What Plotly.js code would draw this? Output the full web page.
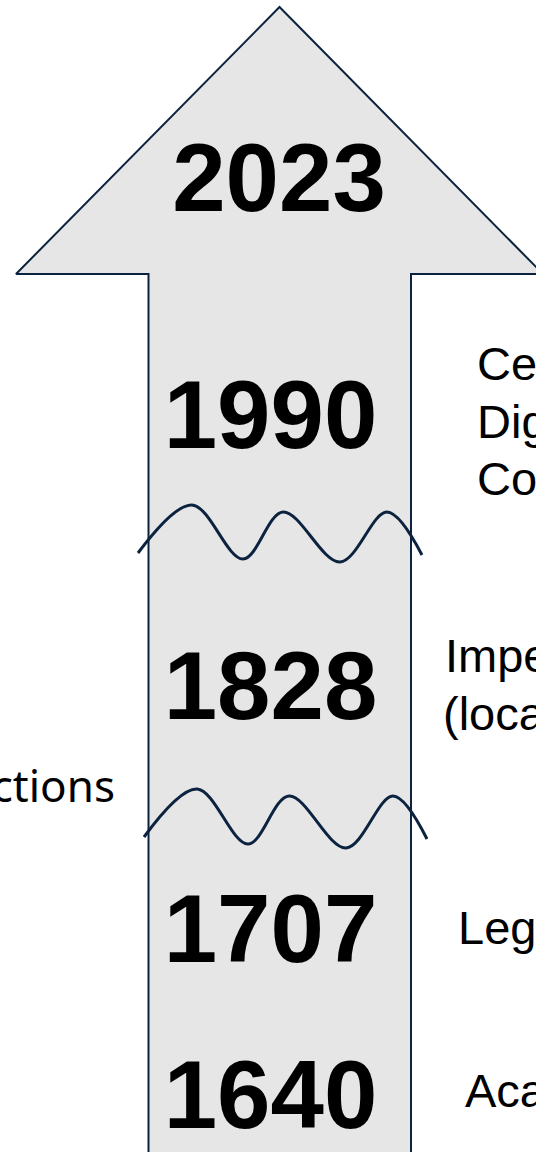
<!DOCTYPE html>
<html>
<head>
<meta charset="utf-8">
<script src="https://cdn.plot.ly/plotly-3.0.1.min.js"></script>
<style>html,body{margin:0;padding:0;background:#fff;}#chart{width:536px;height:1152px;}</style>
</head>
<body>
<div id="chart"></div>
<script>
// ---- data ----
var years = ["2023", "1990", "1828", "1707", "1640"];
var yearBaselines = [211, 448, 719, 962, 1128];
var yearX = [279, 270.5, 270.5, 270.5, 270.5];

var rightLabels = ["Ce", "Dig", "Co", "Impe", "(loca", "Leg", "Aca"];
var rightBaselines = [380, 438, 495, 672, 730, 944, 1107];
var rightX = [477, 477, 477, 445, 443, 458, 465];

var leftLabels = ["ctions"];
var leftBaselines = [802];
var leftX = [115];

// arrow outline (diagram geometry)
var arrowX = [148.5, 148.5, 16, 279.5, 543, 411, 411];
var arrowY = [1170, 274, 274, 7, 274, 274, 1170];

// break waves
var wave1X = [138, 192, 243, 283, 340, 387, 422];
var wave1Y = [553, 505, 559, 512, 562, 512, 555];
var wave2X = [144, 197, 248, 289, 346, 393, 427];
var wave2Y = [837, 789, 844, 796, 848, 796, 839];

// ---- styles ----
var NAVY = "#0c2340";
var FILL = "#e6e6e6";
var YEAR_FS = 96, RIGHT_FS = 47, LEFT_FS = 44;

function shift(arr, fs) { return arr.map(function (b) { return b - 0.25 * fs; }); }

var traces = [
  {
    x: arrowX, y: arrowY, mode: "lines", fill: "toself", fillcolor: FILL,
    line: {color: NAVY, width: 2}, hoverinfo: "skip", showlegend: false
  },
  {
    x: wave1X, y: wave1Y, mode: "lines", line: {color: NAVY, width: 3, shape: "spline", smoothing: 1},
    hoverinfo: "skip", showlegend: false
  },
  {
    x: wave2X, y: wave2Y, mode: "lines", line: {color: NAVY, width: 3, shape: "spline", smoothing: 1},
    hoverinfo: "skip", showlegend: false
  },
  {
    x: yearX, y: shift(yearBaselines, YEAR_FS), mode: "text", text: years,
    textposition: "middle center", cliponaxis: false,
    textfont: {family: "Liberation Sans, Arial, sans-serif", size: YEAR_FS, color: "#000", weight: "bold"},
    hoverinfo: "skip", showlegend: false
  },
  {
    x: rightX, y: shift(rightBaselines, RIGHT_FS), mode: "text", text: rightLabels,
    textposition: "middle right",
    textfont: {family: "Liberation Sans, Arial, sans-serif", size: RIGHT_FS, color: "#000"},
    hoverinfo: "skip", showlegend: false
  },
  {
    x: leftX, y: shift(leftBaselines, LEFT_FS), mode: "text", text: leftLabels,
    textposition: "middle left",
    textfont: {family: "Noto Sans, Open Sans, sans-serif", size: LEFT_FS, color: "#000"},
    hoverinfo: "skip", showlegend: false
  }
];

var layout = {
  width: 536, height: 1152,
  margin: {l: 0, r: 0, t: 0, b: 0, pad: 0},
  paper_bgcolor: "#ffffff", plot_bgcolor: "#ffffff",
  xaxis: {range: [0, 536], visible: false, fixedrange: true},
  yaxis: {range: [1152, 0], visible: false, fixedrange: true},
  showlegend: false
};

Plotly.newPlot("chart", traces, layout, {displayModeBar: false, staticPlot: true});
</script>
</body>
</html>
